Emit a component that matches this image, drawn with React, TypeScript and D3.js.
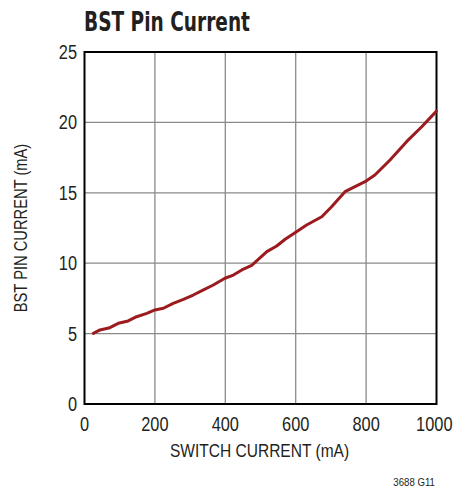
import React from "react";
import * as d3 from "d3";

const switchCurrent = [25, 44, 72, 96, 124, 148, 177, 200, 224, 252, 281, 309, 338, 366, 399, 423, 447, 475, 518, 546, 570, 598, 631, 674, 702, 740, 797, 825, 868, 915, 958, 1000];
const bstCurrent = [5.02, 5.26, 5.42, 5.73, 5.9, 6.2, 6.44, 6.68, 6.8, 7.15, 7.43, 7.74, 8.1, 8.45, 8.93, 9.16, 9.52, 9.85, 10.82, 11.22, 11.7, 12.17, 12.71, 13.3, 14.01, 15.08, 15.79, 16.26, 17.33, 18.63, 19.69, 20.8];
const xTicks = [0, 200, 400, 600, 800, 1000];
const yTicks = [0, 5, 10, 15, 20, 25];

const FONT = "'Liberation Sans', Arial, sans-serif";
const SX = 0.84;

function T(props: { x: number; y: number; size: number; anchor?: string; rot?: number; children: React.ReactNode }) {
  const { x, y, size, anchor = "start", rot = 0, children } = props;
  return (
    <text
      transform={`translate(${x},${y}) rotate(${rot}) scale(${SX},1)`}
      textAnchor={anchor}
      fontFamily={FONT}
      fontSize={size}
      fill="#231f20"
    >
      {children}
    </text>
  );
}

export default function App() {
  const W = 454, H = 487;
  const L = 84.5, R = 436.5, Tp = 52, B = 404;
  const x = d3.scaleLinear().domain([0, 1000]).range([L, R]);
  const y = d3.scaleLinear().domain([0, 25]).range([B, Tp]);
  const pts = switchCurrent.map((v, i) => [v, bstCurrent[i]] as [number, number]);
  const line = d3.line<[number, number]>().x(d => x(d[0])).y(d => y(d[1]));
  return (
    <svg width={W} height={H} style={{ position: "absolute", left: 0, top: 0 }}>
      <rect width={W} height={H} fill="#fff" />
      <text x={84} y={31} fontFamily="'DejaVu Sans Condensed', 'Liberation Sans', sans-serif" fontWeight="bold" fontSize={26} fill="#231f20" textLength={166} lengthAdjust="spacingAndGlyphs">BST Pin Current</text>
      {xTicks.slice(1, -1).map(t => (
        <line key={"gx" + t} x1={x(t)} x2={x(t)} y1={Tp} y2={B} stroke="#8a8a8a" strokeWidth={1.3} />
      ))}
      {yTicks.slice(1, -1).map(t => (
        <line key={"gy" + t} x1={L} x2={R} y1={y(t)} y2={y(t)} stroke="#8a8a8a" strokeWidth={1.3} />
      ))}
      <rect x={L} y={Tp} width={R - L} height={B - Tp} fill="none" stroke="#000" strokeWidth={2} />
      <path d={line(pts) || ""} fill="none" stroke="#9b1b1f" strokeWidth={3} strokeLinejoin="round" strokeLinecap="round" />
      {xTicks.map(t => (
        t === 1000
          ? <T key={"xt" + t} x={452.5} y={431} size={19.5} anchor="end">{t}</T>
          : <T key={"xt" + t} x={x(t)} y={431} size={19.5} anchor="middle">{t}</T>
      ))}
      {yTicks.map(t => (
        <T key={"yt" + t} x={77} y={y(t) + 7} size={19.5} anchor="end">{t}</T>
      ))}
      <T x={(L + R) / 2 - 1} y={457} size={18.5} anchor="middle">SWITCH CURRENT (mA)</T>
      <T x={27} y={(Tp + B) / 2} size={17.5} anchor="middle" rot={-90}>BST PIN CURRENT (mA)</T>
      <T x={435} y={486} size={11.5} anchor="end">3688 G11</T>
    </svg>
  );
}
